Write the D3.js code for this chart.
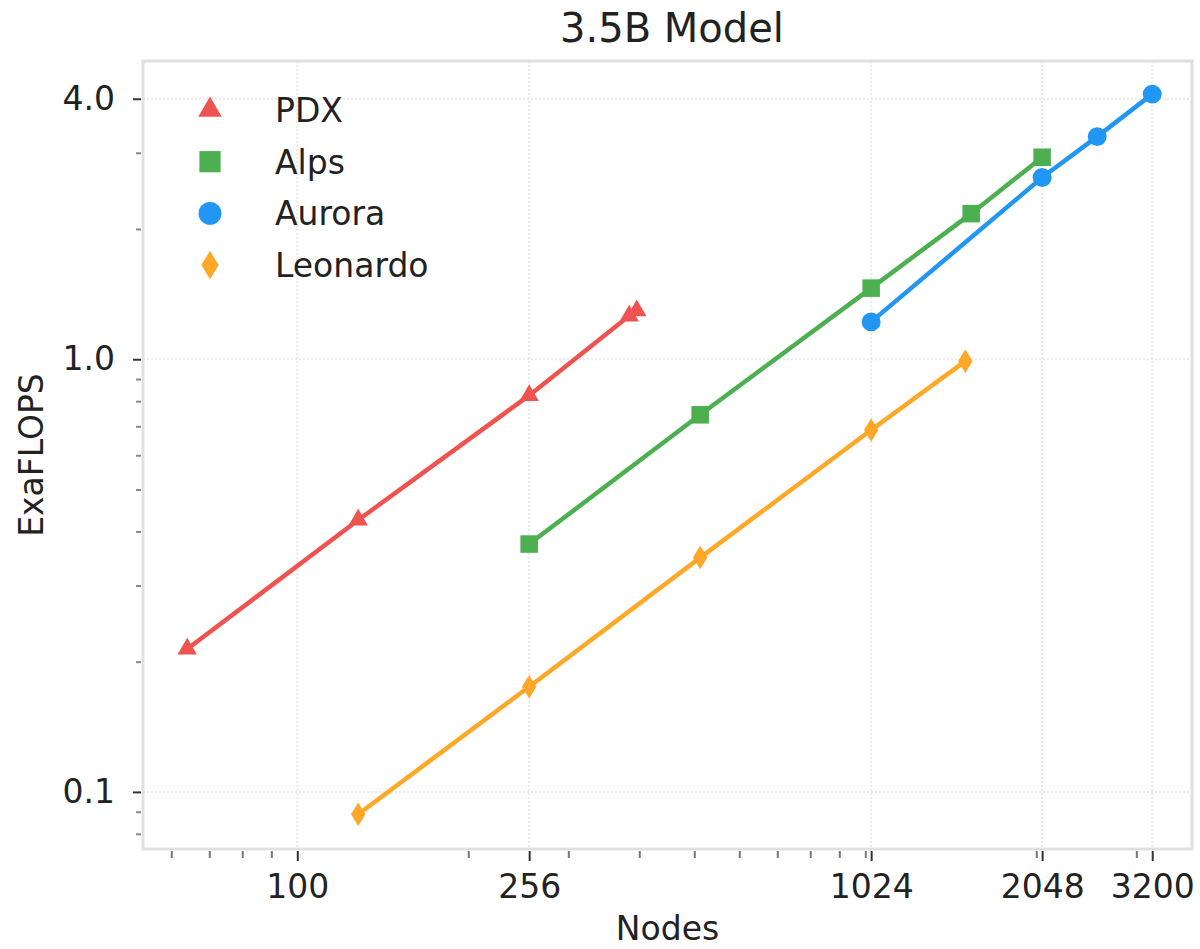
<!DOCTYPE html>
<html>
<head>
<meta charset="utf-8">
<script src="https://cdn.jsdelivr.net/npm/d3@7"></script>
<style>
  body { margin: 0; background: #fff; }
  text { font-family: "DejaVu Sans", sans-serif; fill: #222; }
</style>
</head>
<body>
<div id="chart"></div>
<script>
// series
var seriesNames = ["PDX", "Alps", "Aurora", "Leonardo"];
var pdxNodes = [64, 128, 256, 384, 396];
var pdxFlops = [0.214, 0.425, 0.825, 1.26, 1.295];
var alpsNodes = [256, 512, 1024, 1536, 2048];
var alpsFlops = [0.374, 0.744, 1.46, 2.17, 2.93];
var auroraNodes = [1024, 2048, 2560, 3200];
var auroraFlops = [1.22, 2.63, 3.27, 4.1];
var leoNodes = [128, 256, 512, 1024, 1500];
var leoFlops = [0.0888, 0.175, 0.348, 0.686, 0.99];

var xTicks = [100, 256, 1024, 2048, 3200];
var xMinor = [60, 70, 80, 90, 200, 300, 400, 500, 600, 700, 800, 900, 1000, 2000, 3000];
var yTicks = [0.1, 1.0, 4.0];
var yMinor = [0.08, 0.09, 0.2, 0.3, 0.4, 0.5, 0.6, 0.7, 0.8, 0.9, 2, 3];

var colors = ["#ef5350", "#4caf50", "#2196f3", "#ffa726"];
var shapes = ["triangle", "square", "circle", "diamond"];

var margin = {top: 61, right: 8, bottom: 100, left: 143},
    fullwidth = 1200,
    fullheight = 949,
    width = fullwidth - margin.left - margin.right,
    height = fullheight - margin.top - margin.bottom;

var dataset = [
  {name: seriesNames[0], nodes: pdxNodes, flops: pdxFlops},
  {name: seriesNames[1], nodes: alpsNodes, flops: alpsFlops},
  {name: seriesNames[2], nodes: auroraNodes, flops: auroraFlops},
  {name: seriesNames[3], nodes: leoNodes, flops: leoFlops}
];
dataset.forEach(function(s, i) {
  s.color = colors[i];
  s.shape = shapes[i];
  s.points = s.nodes.map(function(n, j) { return {n: n, v: s.flops[j]}; });
});

function markerPath(shape, size) {
  if (shape == "diamond") {
    var w = size * 0.38, h = size * 0.62;
    return "M0," + (-h) + "L" + w + ",0L0," + h + "L" + (-w) + ",0Z";
  }
  var t = {triangle: d3.symbolTriangle, square: d3.symbolSquare, circle: d3.symbolCircle}[shape];
  var area = {triangle: size * size * 0.45, square: size * size * 0.85, circle: size * size * 0.78}[shape];
  return d3.symbol().type(t).size(area)();
}

var svg = d3.select("#chart")
    .append("svg")
    .attr("width", fullwidth)
    .attr("height", fullheight);

var g = svg.append("g")
    .attr("transform", "translate(" + margin.left + "," + margin.top + ")");

var xScale = d3.scaleLog()
    .domain([53.5, 3760])
    .range([0, width]);

var yScale = d3.scaleLog()
    .domain([0.0738, 4.89])
    .range([height, 0]);

// grid
var grid = g.append("g").classed("grid", true);
grid.selectAll("line.gx")
    .data(xTicks)
    .enter().append("line")
    .attr("x1", function(d) { return xScale(d); })
    .attr("x2", function(d) { return xScale(d); })
    .attr("y1", 0).attr("y2", height)
    .style("stroke", "#e9e9e9").style("stroke-width", 2).style("stroke-dasharray", "2,2");
grid.selectAll("line.gy")
    .data(yTicks)
    .enter().append("line")
    .attr("y1", function(d) { return yScale(d); })
    .attr("y2", function(d) { return yScale(d); })
    .attr("x1", 0).attr("x2", width)
    .style("stroke", "#e9e9e9").style("stroke-width", 2).style("stroke-dasharray", "2,2");

// spines
g.append("rect")
    .attr("x", 0).attr("y", 0)
    .attr("width", width).attr("height", height)
    .style("fill", "none").style("stroke", "#e0e0e0").style("stroke-width", 3);

// axes
var xAxis = d3.axisBottom(xScale).tickValues(xTicks).tickFormat(d3.format("d")).tickSize(10).tickPadding(14);
var xMinorAxis = d3.axisBottom(xScale).tickValues(xMinor).tickFormat("").tickSize(7);
var yAxis = d3.axisLeft(yScale).tickValues(yTicks).tickFormat(d3.format(".1f")).tickSize(8).tickPadding(18);
var yMinorAxis = d3.axisLeft(yScale).tickValues(yMinor).tickFormat("").tickSize(5);

function styleAxis(sel, col) {
  sel.select(".domain").remove();
  sel.selectAll(".tick line").style("stroke", col).style("stroke-width", 2);
  sel.selectAll(".tick text").style("font-size", "33px").style("font-family", "DejaVu Sans").style("fill", "#222");
}

g.append("g").attr("transform", "translate(0," + (height + 2) + ")").call(xMinorAxis).call(styleAxis, "#777");
g.append("g").classed("x axis", true).attr("transform", "translate(0," + (height + 2) + ")").call(xAxis).call(styleAxis, "#333");
g.append("g").attr("transform", "translate(-2,0)").call(yMinorAxis).call(styleAxis, "#888");
g.append("g").classed("y axis", true).attr("transform", "translate(-2,0)").call(yAxis).call(styleAxis, "#333");

// labels
svg.append("text")
    .attr("x", margin.left + width / 2).attr("y", 940)
    .style("text-anchor", "middle").style("font-size", "33px")
    .text("Nodes");
svg.append("text")
    .attr("transform", "translate(43," + (margin.top + height / 2) + ")rotate(-90)")
    .style("text-anchor", "middle").style("font-size", "33px")
    .text("ExaFLOPS");
svg.append("text")
    .attr("x", 672).attr("y", 42)
    .style("text-anchor", "middle").style("font-size", "40px")
    .text("3.5B Model");

// series
var line = d3.line()
    .x(function(d) { return xScale(d.n); })
    .y(function(d) { return yScale(d.v); });

var seriesG = g.selectAll("g.series")
    .data(dataset)
    .enter().append("g")
    .classed("series", true);

seriesG.append("path")
    .attr("d", function(d) { return line(d.points); })
    .style("fill", "none")
    .style("stroke", function(d) { return d.color; })
    .style("stroke-width", 4.5);

seriesG.each(function(s) {
  d3.select(this).selectAll("path.mark")
    .data(s.points)
    .enter().append("path")
    .classed("mark", true)
    .attr("transform", function(d) { return "translate(" + xScale(d.n) + "," + yScale(d.v) + ")"; })
    .attr("d", markerPath(s.shape, 19))
    .style("fill", s.color);
});

// legend
var legend = svg.append("g").attr("transform", "translate(210,110)");
var items = legend.selectAll("g.item")
    .data(dataset)
    .enter().append("g")
    .attr("transform", function(d, i) { return "translate(0," + (i * 51.7) + ")"; });
items.append("path")
    .attr("d", function(d) { return markerPath(d.shape, 23); })
    .style("fill", function(d) { return d.color; });
items.append("text")
    .attr("x", 65).attr("dy", "0.36em")
    .style("font-size", "33px")
    .text(function(d) { return d.name; });
</script>
</body>
</html>
